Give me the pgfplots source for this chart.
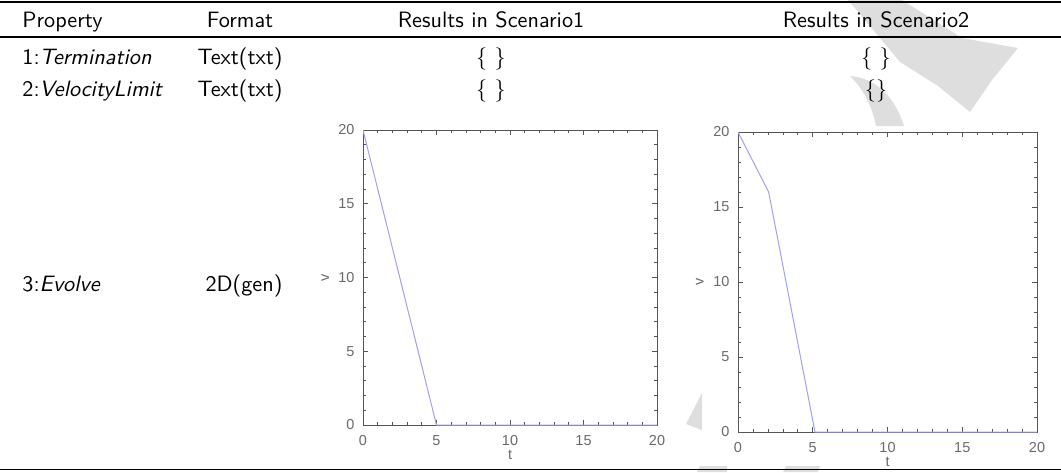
\documentclass[border=0pt]{standalone}
\usepackage{fontspec}
\usepackage{pgfplots}
\pgfplotsset{compat=1.18}
\renewcommand{\familydefault}{\sfdefault}
\newfontfamily\plotfont{Liberation Sans}

\definecolor{vline}{RGB}{160,160,238}
\definecolor{wm}{RGB}{222,222,222}
\definecolor{frame}{RGB}{85,85,85}
\definecolor{lbl}{RGB}{105,105,105}

\pgfplotsset{
  idl/.style={
    scale only axis,
    anchor=south west,
    xmin=0, xmax=20, ymin=0, ymax=20,
    xtick={0,5,10,15,20}, ytick={0,5,10,15,20},
    minor tick num=4,
    tick align=inside,
    major tick length=2.4pt, minor tick length=1.2pt,
    axis line style={draw=frame, line width=0.4pt},
    every tick/.style={draw=frame, line width=0.3pt},
    /pgf/number format/assume math mode=true,
    tick label style={font=\plotfont\fontsize{6.5}{7.5}\selectfont, text=lbl},
    xticklabel style={yshift=-1pt},
    yticklabel style={xshift=-0.3pt},
    xlabel={t}, ylabel={v},
    every axis x label/.style={at={(axis description cs:0.5,-0.1)}, anchor=center,
      font=\plotfont\fontsize{6.5}{7.5}\selectfont, text=lbl},
    every axis y label/.style={at={(axis description cs:-0.128,0.5)}, anchor=center, rotate=90,
      font=\plotfont\fontsize{6.5}{7.5}\selectfont, text=lbl},
  }
}

\begin{document}
\begin{tikzpicture}[x=0.45pt, y=-0.45pt]
\path[use as bounding box] (0,0) rectangle (1061,472);

% watermark pieces
\fill[wm] (848,0) -- (902,0) -- (962,38) -- (1018,48) -- (992,80) -- (970,112)
          -- (938,86) -- (900,62) -- cycle;
\fill[wm] (850,76) .. controls (878,78) and (896,100) .. (904,126) -- (876,126)
          .. controls (872,106) and (864,90) .. cycle;
\fill[wm] (686,424) -- (702,393) -- (702,430) -- cycle;
\fill[wm] (697,472) -- (700,466) -- (727,466) -- (727,472) -- cycle;
\fill[wm] (783,472) -- (786,466) -- (820,466) -- (818,472) -- cycle;

% rules
\draw[line width=0.8pt] (0,1.8) -- (1061,1.8);
\draw[line width=0.5pt] (0,37) -- (1061,37);
\draw[line width=0.8pt] (0,469.5) -- (1061,469.5);

% header
\node[anchor=base west, inner sep=0pt] at (22,27) {Property};
\node[anchor=base, inner sep=0pt] at (240,27) {Format};
\node[anchor=base, inner sep=0pt] at (491,27) {Results in Scenario1};
\node[anchor=base, inner sep=0pt] at (876,27) {Results in Scenario2};

% rows 1 and 2
\node[anchor=base west, inner sep=0pt] at (22,64) {1:\textit{Termination}};
\node[anchor=base, inner sep=0pt] at (240,64) {Text(txt)};
\node[anchor=base, inner sep=0pt] at (491,64) {\{ \}};
\node[anchor=base, inner sep=0pt] at (876,64) {\{ \}};
\node[anchor=base west, inner sep=0pt] at (22,96) {2:\textit{VelocityLimit}};
\node[anchor=base, inner sep=0pt] at (240,96) {Text(txt)};
\node[anchor=base, inner sep=0pt] at (491,96) {\{ \}};
\node[anchor=base, inner sep=0pt] at (876,96) {\{\}};

% row 3
\node[anchor=base west, inner sep=0pt] at (22,291) {3:\textit{Evolve}};
\node[anchor=base, inner sep=0pt] at (244,291) {2D(gen)};

\coordinate (p1) at (363,425);
\coordinate (p2) at (738,432);

% scenario 1
\begin{axis}[idl, at={(p1)}, width=132.3pt, height=132.75pt]
\addplot[vline, line width=0.45pt] coordinates {(0,20) (5,0) (20,0)};
\end{axis}

% scenario 2
\begin{axis}[idl, at={(p2)}, width=134.55pt, height=135pt]
\addplot[vline, line width=0.45pt] coordinates {(0,20) (2.05,16) (5.15,0) (20,0)};
\end{axis}
\end{tikzpicture}
\end{document}
